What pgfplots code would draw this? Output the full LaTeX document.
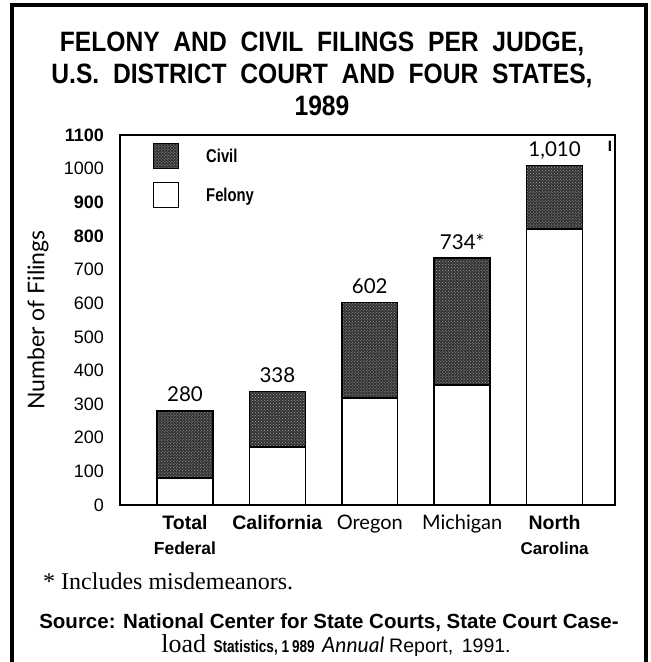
\documentclass[border=0pt]{standalone}
\usepackage{fontspec}
\setmainfont{Liberation Serif}
\newfontfamily\arial{Liberation Sans}
\newfontfamily\arialc[FakeStretch=0.88,WordSpace=2]{Liberation Sans}
\newfontfamily\arialn[FakeStretch=0.8]{Liberation Sans}
\newfontfamily\gill{Lato}
\usepackage{pgfplots}
\usepackage{pgfplotstable}
\pgfplotsset{compat=1.18}
\usetikzlibrary{patterns}

\pgfplotstableread{
x felony total lab
0 81 280 280
1 173 338 338
2 318 602 602
3 357 734 734*
4 820 1010 {1,010}
}\filings

\begin{document}
\begin{tikzpicture}
\begin{scope}[x=1bp,y=1bp]
\useasboundingbox (0,0) rectangle (651,662);
\fill[white] (0,0) rectangle (651,662);
\draw[line width=4bp] (11.5,656.5) rectangle (645.5,-10);

\node[font=\arialc\bfseries\fontsize{28bp}{30bp}\selectfont, anchor=base, inner sep=0pt] at (322,610) {FELONY AND CIVIL FILINGS PER JUDGE,};
\node[font=\arialc\bfseries\fontsize{28bp}{30bp}\selectfont, anchor=base, inner sep=0pt] at (322,578) {U.S. DISTRICT COURT AND FOUR STATES,};
\node[font=\arialc\bfseries\fontsize{28bp}{30bp}\selectfont, anchor=base, inner sep=0pt] at (322,546) {1989};

\node[anchor=base west, inner sep=0pt, font=\fontsize{24bp}{28bp}\selectfont] at (43,72) {* Includes misdemeanors.};
\node[anchor=base, inner sep=0pt, font=\arial\bfseries\fontsize{20.5bp}{24bp}\selectfont] at (329,33) {Source: National Center for State Courts, State Court Case-};
\node[anchor=base, inner sep=0pt] at (336,9) {{\fontsize{26bp}{28bp}\selectfont load}\ \ \ {\arialn\bfseries\fontsize{17bp}{18bp}\selectfont Statistics, 1\,989}\ \ \ {\gill\itshape\fontsize{21bp}{24bp}\selectfont Annual}\ \ {\arial\fontsize{19.5bp}{20bp}\selectfont Report,\, 1991.}};
\end{scope}

\begin{axis}[
  at={(120bp,157bp)}, anchor=south west,
  width=495bp, height=370bp, scale only axis,
  xmin=-0.703, xmax=4.654, ymin=0, ymax=1100,
  bar width=0.605,
  axis line style={line width=1.5bp},
  major tick length=0pt,
  ytick={0,100,...,1100},
  yticklabels={0,100,200,300,400,500,600,700,\textbf{800},\textbf{900},1000,\textbf{1100}},
  yticklabel style={font=\arial\fontsize{18bp}{20bp}\selectfont, anchor=east, inner sep=0pt, xshift=-16bp},
  xtick={0,1,2,3,4},
  xticklabels={{Total\\{\fontsize{17.5bp}{20bp}\selectfont Federal}},
               {California},
               {{\gill\mdseries\fontsize{20bp}{22bp}\selectfont Oregon}},
               {{\gill\mdseries\fontsize{20bp}{22bp}\selectfont Michigan}},
               {North\\{\fontsize{17bp}{20bp}\selectfont Carolina}}},
  xticklabel style={font=\arial\bfseries\fontsize{19.5bp}{25bp}\selectfont, align=center, anchor=north, inner sep=0pt, yshift=-10bp},
  ylabel={Number of Filings},
  ylabel style={font=\gill\fontsize{23bp}{26bp}\selectfont, at={(axis description cs:-0.1657,0.5)}, anchor=center},
  legend style={draw=none, fill=none, at={(axis description cs:0.0667,0.978)}, anchor=north west,
     inner sep=0pt, row sep=13bp, column sep=27bp,
     font=\arialn\bfseries\fontsize{18.5bp}{20bp}\selectfont,
     nodes={inner sep=0pt, anchor=west}},
  legend cell align=left,
  legend image code/.code={\draw[#1, line width=1bp] (0bp,-12.5bp) rectangle (25bp,12.5bp);},
  clip=false,
]
\addplot[ybar, bar shift=0pt, draw=black, line width=1.5bp, fill=black!80,
   postaction={pattern=crosshatch dots, pattern color=gray!70},
   point meta=explicit symbolic,
   nodes near coords,
   nodes near coords style={font=\gill\fontsize{20.5bp}{24bp}\selectfont, anchor=base, inner sep=0pt, yshift=9bp, black}
  ] table[x=x, y=total, meta=lab] {\filings};
\addlegendentry{Civil}
\addplot[ybar, bar shift=0pt, draw=black, line width=1.5bp, fill=white] table[x=x, y=felony] {\filings};
\addlegendentry{Felony}
\node[font=\arial\bfseries\fontsize{15bp}{18bp}\selectfont, anchor=base, inner sep=0pt] at (axis cs:4.6,1050) {I};
\end{axis}
\end{tikzpicture}
\end{document}
